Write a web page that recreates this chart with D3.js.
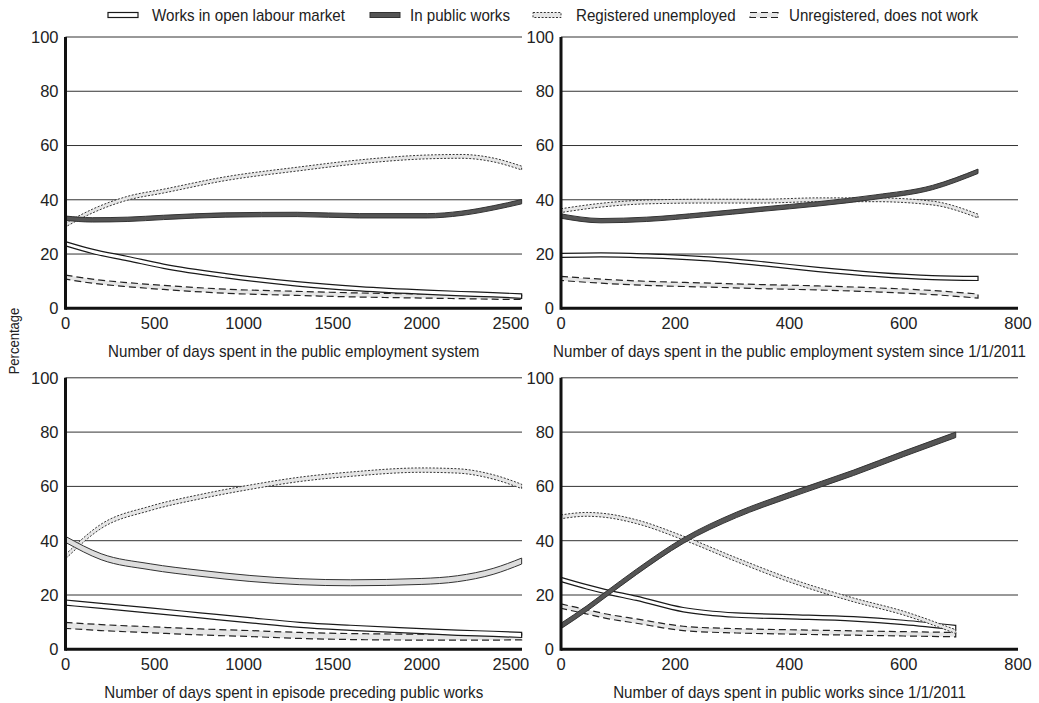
<!DOCTYPE html>
<html>
<head>
<meta charset="utf-8">
<script src="https://cdn.jsdelivr.net/npm/d3@7"></script>
<style>
  body { margin: 0; background: #fff; }
  svg text { font-family: "Liberation Sans", Arial, sans-serif; fill: #222; }
</style>
</head>
<body>
<div id="chart"></div>
<script>
const seriesNames = ["Works in open labour market", "In public works", "Registered unemployed", "Unregistered, does not work"];

// panel A: days in public employment system
const daysA = [0, 150, 350, 550, 900, 1300, 1650, 2030, 2220, 2400, 2560];
const openA = [23.8, 21, 18.3, 15.5, 12, 9, 7.2, 5.9, 5.4, 5, 4.5];
const publicA = [33.2, 32.6, 32.8, 33.5, 34.4, 34.6, 34.1, 34.1, 35, 37, 39.3];
const registeredA = [30.7, 35.8, 40.6, 43.2, 47.8, 51.3, 54, 55.8, 56, 54.7, 51.7];
const unregisteredA = [11.5, 10, 8.7, 7.7, 6.3, 5.5, 4.9, 4.5, 4.3, 4.1, 4];
const bandA = [0.8, 0.8, 0.7, 0.75];

// panel B: days in public employment system since 1/1/2011
const daysB = [0, 70, 150, 250, 350, 450, 550, 650, 730];
const openB = [19.5, 19.7, 19.3, 18.3, 16.5, 14.3, 12.5, 11.3, 11];
const publicB = [34, 32.3, 32.8, 34.5, 36.5, 38.5, 41, 44.5, 50.5];
const registeredB = [36, 38, 39.2, 39.5, 39.5, 40, 40, 38.8, 34];
const unregisteredB = [11, 10, 9.2, 8.6, 8, 7.5, 6.8, 5.8, 4.5];
const bandB = [0.75, 0.8, 0.7, 0.75];

// panel C: days in episode preceding public works
const daysC = [0, 200, 475, 755, 1035, 1315, 1600, 2000, 2200, 2400, 2560];
const openC = [17.2, 16, 14.3, 12.5, 10.7, 9, 7.9, 6.7, 6.1, 5.7, 5.3];
const publicC = [40.5, 34.1, 30.4, 28, 26.1, 24.9, 24.5, 25, 26, 28.7, 32.5];
const registeredC = [34.1, 45.3, 51.9, 56.2, 59.7, 62.6, 64.5, 66, 65.7, 63.5, 60];
const unregisteredC = [8.8, 8, 7.2, 6.4, 5.8, 5.1, 4.7, 4.5, 4.5, 4.5, 4.6];
const bandC = [0.95, 1.1, 0.8, 1.1];

// panel D: days in public works since 1/1/2011
const daysD = [0, 45, 77, 132, 214, 307, 400, 512, 600, 691];
const openD = [25.7, 23, 21.3, 18.8, 14.6, 12.6, 12, 11.2, 9.9, 8];
const publicD = [8.6, 15, 20, 28.5, 40, 49.5, 56.8, 65, 72, 79];
const registeredD = [48.8, 49.7, 49.3, 47, 41, 33, 25.5, 18.2, 13.3, 6.5];
const unregisteredD = [15.9, 13.8, 12.3, 10.4, 7.7, 6.8, 6.4, 6, 5.7, 5.4];
const bandD = [0.8, 1, 0.7, 0.8];

const yTicks = [0, 20, 40, 60, 80, 100];
const xTicksLeft = [0, 500, 1000, 1500, 2000, 2500];
const xTicksRight = [0, 200, 400, 600, 800];
const xTitles = [
  "Number of days spent in the public employment system",
  "Number of days spent in the public employment system since 1/1/2011",
  "Number of days spent in episode preceding public works",
  "Number of days spent in public works since 1/1/2011"
];

const width = 1039, height = 703;
const squeeze = 0.89;

const styles = [
  { fill: "#ffffff", stroke: "#1a1a1a", dash: null, sw: 1.2 },
  { fill: "#555555", stroke: "#333333", dash: null, sw: 1 },
  { fill: "#e6e6e6", stroke: "#333333", dash: "2,1.6", sw: 1 },
  { fill: "#e6e6e6", stroke: "#222222", dash: "7,4", sw: 1.2 }
];

const panels = [
  { days: daysA, vals: [openA, publicA, registeredA, unregisteredA], band: bandA, xmax: 2562, ticks: xTicksLeft, title: xTitles[0], x0: 65.5, x1: 522, y0: 308.3, y1: 37, publicFill: "#555555" },
  { days: daysB, vals: [openB, publicB, registeredB, unregisteredB], band: bandB, xmax: 800, ticks: xTicksRight, title: xTitles[1], x0: 561, x1: 1018, y0: 308.3, y1: 37, publicFill: "#555555" },
  { days: daysC, vals: [openC, publicC, registeredC, unregisteredC], band: bandC, xmax: 2562, ticks: xTicksLeft, title: xTitles[2], x0: 65.5, x1: 522, y0: 649.3, y1: 377.8, publicFill: "#dddddd" },
  { days: daysD, vals: [openD, publicD, registeredD, unregisteredD], band: bandD, xmax: 800, ticks: xTicksRight, title: xTitles[3], x0: 561, x1: 1018, y0: 649.3, y1: 377.8, publicFill: "#555555" }
];

const svg = d3.select("#chart").append("svg")
  .attr("width", width)
  .attr("height", height);

// condensed-looking text: regular face squeezed horizontally
function narrowText(parent, x, y, str, size, anchor) {
  return parent.append("text")
    .attr("transform", `translate(${x},${y}) scale(${squeeze},1)`)
    .attr("text-anchor", anchor || "start")
    .attr("font-size", size)
    .text(str);
}

// draw order: unregistered, open labour, registered, public works
const order = [3, 0, 2, 1];

panels.forEach(p => {
  const x = d3.scaleLinear().domain([0, p.xmax]).range([p.x0, p.x1]);
  const y = d3.scaleLinear().domain([0, 100]).range([p.y0, p.y1]);
  const g = svg.append("g");

  // gridlines
  g.selectAll("line.grid")
    .data(yTicks.filter(t => t > 0))
    .enter().append("line")
    .attr("x1", p.x0).attr("x2", p.x1)
    .attr("y1", d => y(d)).attr("y2", d => y(d))
    .attr("stroke", "#333").attr("stroke-width", 1);

  // y labels
  g.selectAll("text.yl")
    .data(yTicks)
    .enter().append("text")
    .attr("x", p.x0 - 7)
    .attr("y", d => y(d))
    .attr("dy", "0.36em")
    .attr("text-anchor", "end")
    .attr("font-size", 16.5)
    .text(d => d);

  // x labels
  g.selectAll("text.xl")
    .data(p.ticks)
    .enter().append("text")
    .attr("x", d => x(d))
    .attr("y", p.y0 + 21)
    .attr("text-anchor", "middle")
    .attr("font-size", 16.5)
    .text(d => d);

  narrowText(g, (p.x0 + p.x1) / 2, p.y0 + 49, p.title, 17, "middle");

  // bands
  order.forEach(i => {
    const rows = p.days.map((d, k) => ({ d: d, v: p.vals[i][k] }));
    const area = d3.area()
      .curve(d3.curveMonotoneX)
      .x(r => x(r.d))
      .y0(r => y(r.v - p.band[i]))
      .y1(r => y(r.v + p.band[i]));
    const st = styles[i];
    g.append("path")
      .datum(rows)
      .attr("d", area)
      .attr("fill", i === 1 ? p.publicFill : st.fill)
      .attr("stroke", st.stroke)
      .attr("stroke-width", st.sw)
      .attr("stroke-dasharray", st.dash);
  });

  // axes
  g.append("line")
    .attr("x1", p.x0).attr("x2", p.x0)
    .attr("y1", p.y1).attr("y2", p.y0 + 1.5)
    .attr("stroke", "#111").attr("stroke-width", 3);
  g.append("line")
    .attr("x1", p.x0).attr("x2", p.x1)
    .attr("y1", p.y0).attr("y2", p.y0)
    .attr("stroke", "#111").attr("stroke-width", 3);
});

// y title
svg.append("text")
  .attr("transform", "translate(19,341) rotate(-90) scale(0.9,1)")
  .attr("text-anchor", "middle")
  .attr("font-size", 14.5)
  .text("Percentage");

// legend
const legendX = [108, 370, 533, 750];
const legendW = [30, 30, 28, 28];
const legendTextX = [152, 410, 576, 789];
const lg = svg.append("g");
seriesNames.forEach((name, i) => {
  const st = styles[i];
  lg.append("rect")
    .attr("x", legendX[i]).attr("y", 12.5)
    .attr("width", legendW[i]).attr("height", 5)
    .attr("fill", st.fill)
    .attr("stroke", st.stroke)
    .attr("stroke-width", st.sw)
    .attr("stroke-dasharray", st.dash);
  narrowText(lg, legendTextX[i], 21, name, 17, "start");
});
</script>
</body>
</html>
